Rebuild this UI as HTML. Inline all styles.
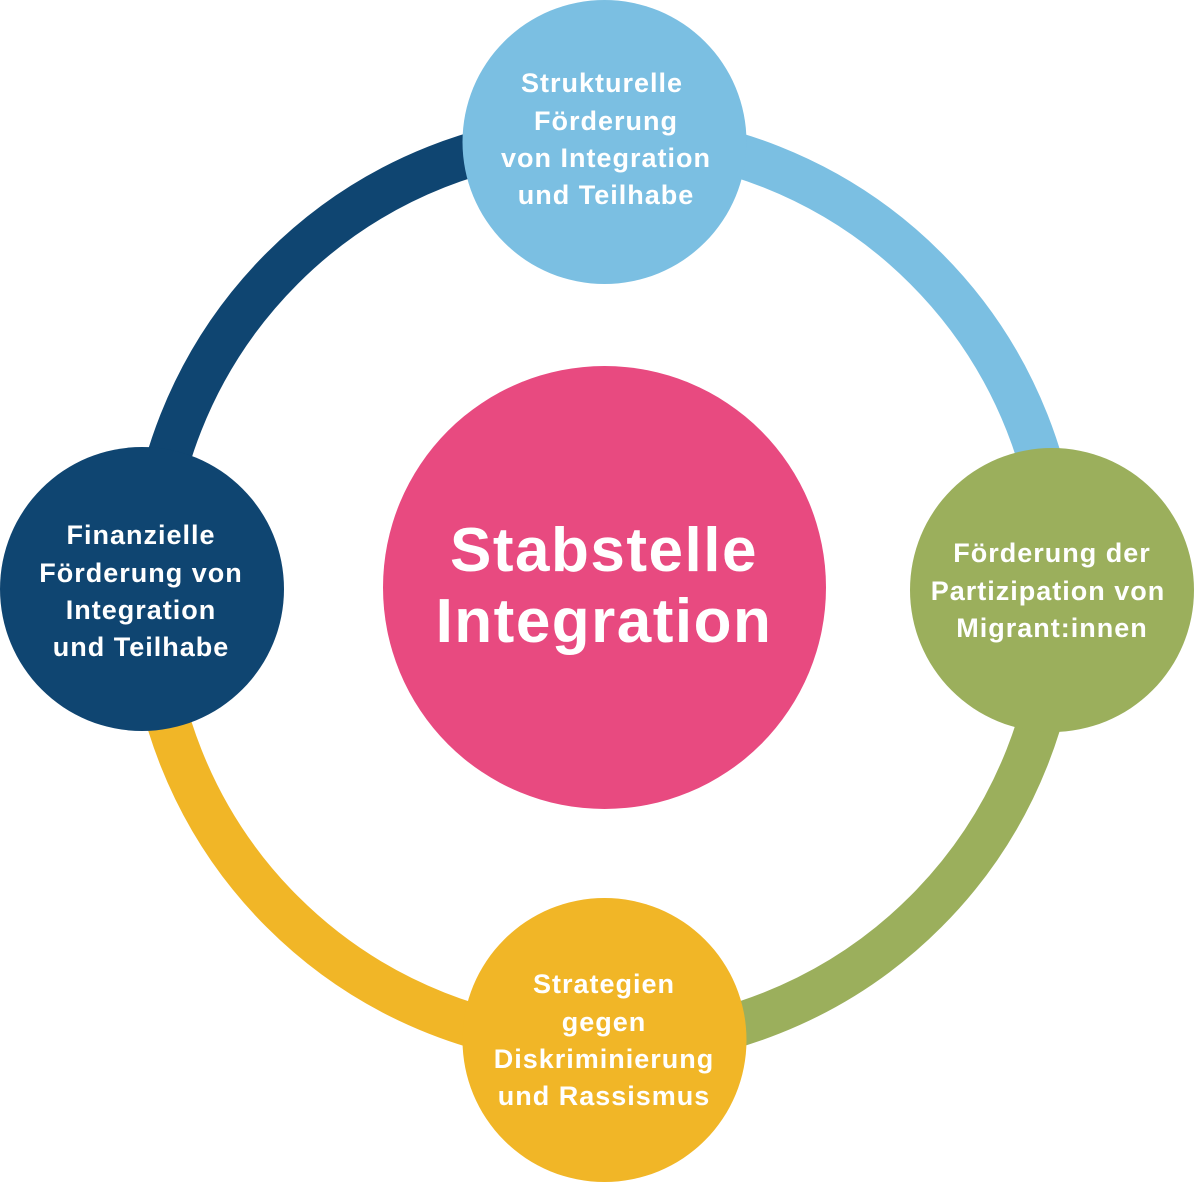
<!DOCTYPE html>
<html><head><meta charset="utf-8"><style>
html,body{margin:0;padding:0;background:#fff;}
svg text{font-family:"Liberation Sans",sans-serif;fill:#fff;text-anchor:middle;}
</style></head><body>
<svg width="1194" height="1182" viewBox="0 0 1194 1182" xmlns="http://www.w3.org/2000/svg">
<g fill="none" stroke-width="44">
<path d="M149 590 A455 455 0 0 1 604 135" stroke="#0f4571"/>
<path d="M604 135 A455 455 0 0 1 1059 590" stroke="#7bbfe2"/>
<path d="M1059 590 A455 455 0 0 1 604 1045" stroke="#9baf5c"/>
<path d="M604 1045 A455 455 0 0 1 149 590" stroke="#f1b627"/>
</g>
<circle cx="604.5" cy="587.5" r="221.5" fill="#e84a80"/>
<circle cx="604.5" cy="142" r="142" fill="#7bbfe2"/>
<circle cx="1052" cy="590" r="142" fill="#9baf5c"/>
<circle cx="604.5" cy="1040" r="142" fill="#f1b627"/>
<circle cx="142" cy="589" r="142" fill="#0f4571"/>
<g font-size="27" font-weight="bold" letter-spacing="1">
<text x="602" y="92">Strukturelle</text>
<text x="606" y="130">Förderung</text>
<text x="606" y="167">von Integration</text>
<text x="606" y="204">und Teilhabe</text>
<text x="1052" y="562">Förderung der</text>
<text x="1048" y="600">Partizipation von</text>
<text x="1052" y="637">Migrant:innen</text>
<text x="604" y="993">Strategien</text>
<text x="604" y="1031">gegen</text>
<text x="604" y="1068">Diskriminierung</text>
<text x="604" y="1105">und Rassismus</text>
<text x="141" y="544">Finanzielle</text>
<text x="141" y="582">Förderung von</text>
<text x="141" y="619">Integration</text>
<text x="141" y="656">und Teilhabe</text>
</g>
<g font-size="62" font-weight="bold" letter-spacing="1.5">
<text x="604" y="571">Stabstelle</text>
<text x="604" y="642">Integration</text>
</g>
</svg>
</body></html>
